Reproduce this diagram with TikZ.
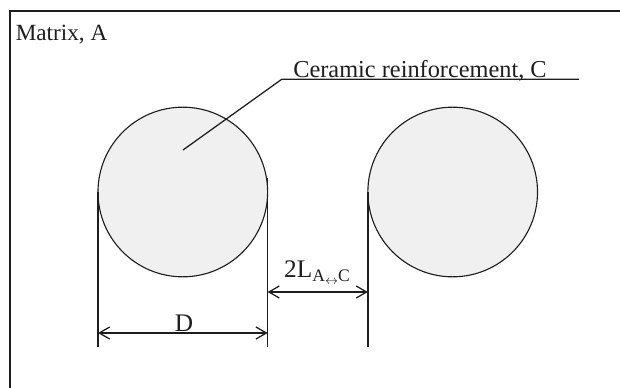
\documentclass[tikz,border=0pt]{standalone}
\usepackage{fontspec}
\setmainfont{Liberation Serif}
\usetikzlibrary{arrows.meta,positioning}
\definecolor{MmcInk}{RGB}{30,30,30}
\definecolor{MmcFill}{RGB}{240,240,240}
\tikzset{
  mmc/frame/.style={
    draw=MmcInk,
    line width=1.6pt
  },
  mmc/particle/.style={
    circle,
    draw=MmcInk,
    line width=0.8pt,
    fill=MmcFill,
    minimum size=4.24cm,
    inner sep=0pt,
    outer sep=0pt
  },
  mmc/line/.style={draw=MmcInk, line width=0.9pt},
  mmc/dim/.style={{Straight Barb[length=2.6mm,width=3mm]}-{Straight Barb[length=2.6mm,width=3mm]}, line width=0.9pt, draw=MmcInk},
  mmc/label/.style={font=\fontsize{16.5}{19}\selectfont, text=MmcInk, inner sep=0pt},
  mmc/dimlabel/.style={font=\fontsize{18}{20}\selectfont, text=MmcInk, inner sep=0pt}
}

\begin{document}
\begin{tikzpicture}[x=0.025cm,y=-0.025cm]
  \useasboundingbox (0,0) rectangle (620,388);
  \draw[mmc/frame] (10,388) |- (620,11);
  \node[mmc/label,anchor=base west] (matrix) at (15.5,40) {Matrix, A};
  % particles
  \node[mmc/particle] (c1) at (182.8,192) {};
  \node[mmc/particle] (c2) at (452.7,192) {};
  % leader
  \coordinate (tip) at (183,150);
  \coordinate (knee) at (281.7,79.3);
  \coordinate (tail) at (579,79.3);
  \draw[mmc/line] (tip) -- (knee) -- (tail);
  \node[mmc/label,font=\fontsize{17.3}{19}\selectfont,anchor=base] (cer) at (420,77.5) {Ceramic reinforcement, C};
  % extension lines
  \coordinate (e1) at (c1.west |- 0,347);
  \coordinate (e2top) at (c1.east |- 0,178);
  \coordinate (e2) at (c1.east |- 0,347);
  \coordinate (e3) at (c2.west |- 0,347);
  \draw[mmc/line] (c1.west) -- (e1);
  \draw[mmc/line] (e2top) -- (e2);
  \draw[mmc/line] (c2.west) -- (e3);
  % dimensions
  \coordinate (d1) at (c1.west |- 0,333);
  \coordinate (d2) at (c1.east |- 0,333);
  \coordinate (g1) at (c1.east |- 0,292);
  \coordinate (g2) at (c2.west |- 0,292);
  \draw[mmc/dim] (d1) -- (d2);
  \draw[mmc/dim] (g1) -- (g2);
  \node[mmc/dimlabel,anchor=base] (dlab) at (184,331) {D};
  \node[mmc/dimlabel,anchor=base] (glab) at (317,277) {2L{\fontsize{12.5}{12}\selectfont\raisebox{-3pt}{A\raisebox{-2pt}{$\scriptstyle\leftrightarrow$}C}}};
\end{tikzpicture}
\end{document}
